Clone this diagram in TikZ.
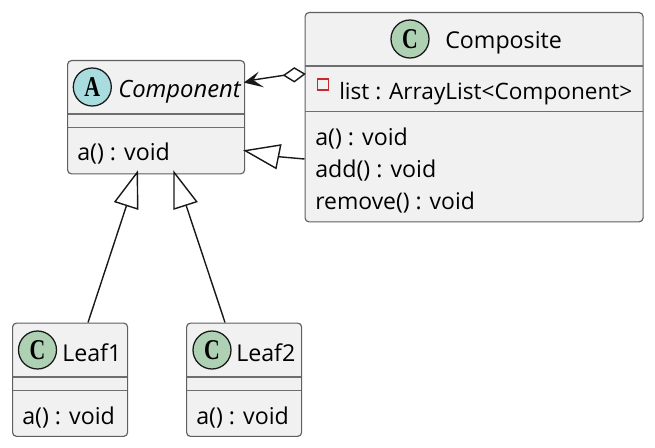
\documentclass[tikz,border=0pt]{standalone}
\usepackage{fontspec}
\setmainfont{Open Sans}
\newfontfamily\spotfont{Liberation Serif}
\definecolor{boxfill}{HTML}{F1F1F1}
\definecolor{boxline}{HTML}{5F5F5F}
\definecolor{sepline}{HTML}{6E6E6E}
\definecolor{classspot}{HTML}{ADD1B2}
\definecolor{abstractspot}{HTML}{A9DCDF}
\definecolor{privatemark}{HTML}{C82930}
\definecolor{ink}{HTML}{181818}
\newcommand{\umlfont}{\fontsize{17.4pt}{20pt}\selectfont}
\newcommand{\spotletter}[1]{\scalebox{0.76}[1]{\spotfont\bfseries\fontsize{21.5pt}{21.5pt}\selectfont #1}}
\tikzset{
  x=0.75pt, y=-0.75pt,
  classbox/.style={draw=boxline, fill=boxfill, line width=0.85pt, rounded corners=3pt,
    inner sep=0pt, anchor=north west},
  spot/.style={circle, draw=ink, line width=0.95pt, minimum size=28.5pt, inner sep=0pt},
  label/.style={text=black, inner sep=0pt, anchor=base west, font=\umlfont},
  sep/.style={draw=sepline, line width=0.85pt},
  link/.style={draw=ink, line width=1.05pt, line join=miter},
}
\begin{document}
\begin{tikzpicture}
\useasboundingbox (0,0) rectangle (655,448);

% Component
\node[classbox, minimum width=132.8pt, minimum height=85pt] (component) at (67,60) {};
\draw[sep] (67.5,114) -- (244,114);
\draw[sep] (67.5,127.5) -- (244,127.5);
\node[spot, fill=abstractspot] (componentspot) at (92.3,87) {\spotletter{A}};
\node[label, font=\fontsize{17.85pt}{20pt}\selectfont\itshape] (componentname) at (118,98) {Component};
\node[label] (componentop) at (77,161) {a() : void};

% Composite
\node[classbox, minimum width=253.5pt, minimum height=157pt] (composite) at (304.5,12) {};
\draw[sep] (305,66) -- (643,66);
\draw[sep] (305,111.5) -- (643,111.5);
\node[spot, fill=classspot] (compositespot) at (410,39) {\spotletter{C}};
\node[label] (compositename) at (445,49) {Composite};
\node[draw=privatemark, line width=0.95pt, minimum size=8.4pt, inner sep=0pt] (listmark) at (323,84.5) {};
\node[label, font=\fontsize{16.95pt}{20pt}\selectfont] (listfield) at (339,99.5) {list : ArrayList<Component>};
\node[label] (compositea) at (315,146) {a() : void};
\node[label] (compositeadd) at (315,178) {add() : void};
\node[label, font=\fontsize{17.2pt}{20pt}\selectfont] (compositeremove) at (315,209.5) {remove() : void};

% Leaf1
\node[classbox, minimum width=86.3pt, minimum height=85pt] (leafone) at (12,322.5) {};
\draw[sep] (12.5,377) -- (127,377);
\draw[sep] (12.5,390.5) -- (127,390.5);
\node[spot, fill=classspot] (leafonespot) at (37.5,350) {\spotletter{C}};
\node[label] (leafonename) at (62,361) {Leaf1};
\node[label] (leafoneop) at (22,424) {a() : void};

% Leaf2
\node[classbox, minimum width=86.3pt, minimum height=85pt] (leaftwo) at (186,322.5) {};
\draw[sep] (186.5,377) -- (301,377);
\draw[sep] (186.5,390.5) -- (301,390.5);
\node[spot, fill=classspot] (leaftwospot) at (212,350) {\spotletter{C}};
\node[label] (leaftwoname) at (236,361) {Leaf2};
\node[label] (leaftwoop) at (196,424) {a() : void};

% Aggregation from Composite to Component
\coordinate (aggstart) at (composite.west |- 0,74);
\coordinate (aggtip) at (component.east |- 0,82.3);
\draw[link, fill=white] (aggstart) -- (294.3,68) -- (284,75.3) -- (294.3,81.7) -- cycle;
\draw[link] (284,75.3) -- (253,80);
\draw[ink, fill=ink, line width=0.9pt, line join=miter] (aggtip) -- (256.5,74) -- (252.5,80.3) -- (261,86) -- cycle;

% Generalisations
\coordinate (compositebase) at (composite.west |- 0,159);
\coordinate (gentip) at (component.east |- 0,150.7);
\draw[link] (compositebase) -- (278.3,156.7);
\draw[link, fill=white] (gentip) -- (280.7,145) -- (276,168.3) -- cycle;

\coordinate (leafonetop) at (88,322.5);
\coordinate (leaftwotop) at (225,322.5);
\draw[link] (leafonetop) -- (126.7,205);
\draw[link, fill=white] (137.3,172.3) -- (115,201.7) -- (137.7,209) -- cycle;
\draw[link] (leaftwotop) -- (186,205);
\draw[link, fill=white] (174,172.3) -- (174,209) -- (196.7,201.7) -- cycle;
\end{tikzpicture}
\end{document}
